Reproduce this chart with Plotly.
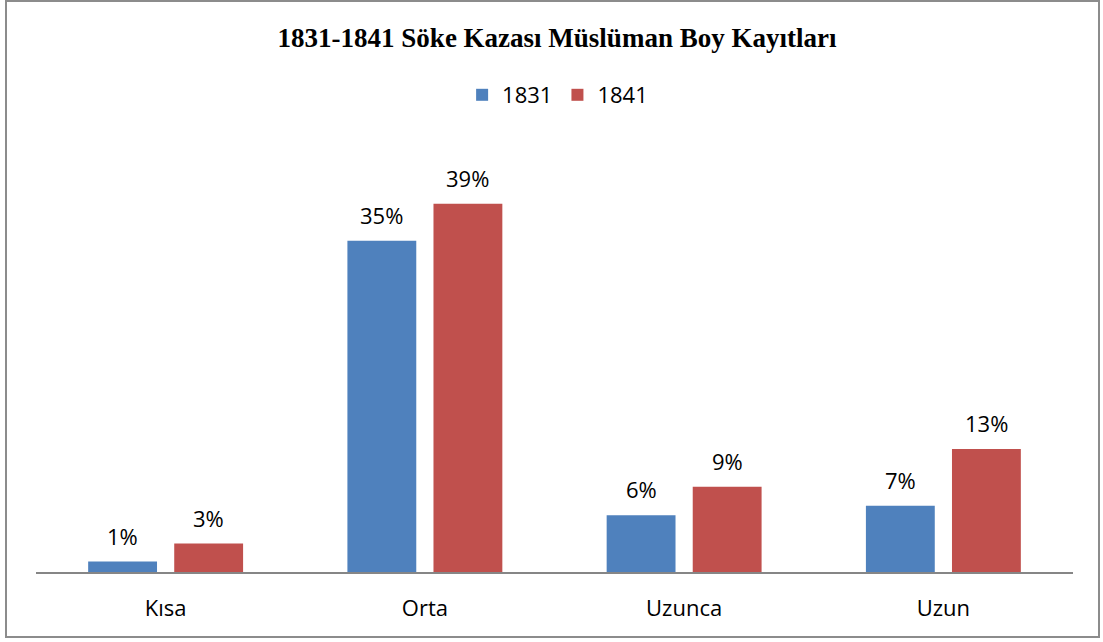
import plotly.graph_objects as go

categories = ["Kısa", "Orta", "Uzunca", "Uzun"]
series_names = ["1831", "1841"]
values_1831 = [1.1, 35.0, 6.0, 7.0]
values_1841 = [3.0, 38.9, 9.0, 13.0]
labels_1831 = ["1%", "35%", "6%", "7%"]
labels_1841 = ["3%", "39%", "9%", "13%"]
colors = ["#4F81BD", "#C0504D"]

W, H = 1103, 642
ml, mr, mt, mb = 36, 30, 146, 70
ymax = 45
FONT = "Open Sans"

fig = go.Figure()
for name, vals, col in zip(series_names, [values_1831, values_1841], colors):
    fig.add_trace(go.Bar(x=list(range(len(categories))), y=vals, name=name,
                         marker=dict(color=col, line=dict(width=0))))

offset = 0.166
annotations = []
for vals, labs, sgn in [(values_1831, labels_1831, -1), (values_1841, labels_1841, 1)]:
    for i, (v, t) in enumerate(zip(vals, labs)):
        annotations.append(dict(x=i + sgn * offset, y=v, xref="x", yref="y", text=t,
                                showarrow=False, yshift=26,
                                font=dict(family=FONT, size=22, color="#000")))

pw = W - ml - mr
ph = H - mt - mb
fig.update_layout(
    width=W, height=H,
    margin=dict(l=ml, r=mr, t=mt, b=mb),
    paper_bgcolor="white", plot_bgcolor="white",
    barmode="group", bargap=0.336, bargroupgap=0.2,
    title=dict(text="<b>1831-1841 Söke Kazası Müslüman Boy Kayıtları</b>",
               x=0.505, xanchor="center", y=1 - 38 / H, yanchor="middle",
               font=dict(family="Liberation Serif", size=27, color="#000")),
    legend=dict(orientation="h", x=0.503, xanchor="center", y=1 + (mt - 95) / ph,
                yanchor="middle", font=dict(family=FONT, size=22, color="#000"),
                itemwidth=30, traceorder="normal"),
    annotations=annotations,
    xaxis=dict(tickmode="array", tickvals=list(range(len(categories))), ticktext=categories,
               range=[-0.5, 3.5], showline=True, linecolor="#868686", linewidth=2,
               showgrid=False, zeroline=False, ticks="", ticklen=0, ticklabelstandoff=16,
               tickfont=dict(family=FONT, size=22, color="#000")),
    yaxis=dict(range=[0, ymax], visible=False, showgrid=False, zeroline=False),
    shapes=[dict(type="rect", xref="paper", yref="paper",
                 x0=(6 - ml) / pw, x1=(1099 - ml) / pw,
                 y0=-(637 - (H - mb)) / ph, y1=1 + (mt - 1) / ph,
                 line=dict(color="#8c8c8c", width=2), fillcolor="rgba(0,0,0,0)", layer="below")],
)

fig.write_html("out.html", config={"displayModeBar": False},
               post_script="document.body.style.margin='0px';")
